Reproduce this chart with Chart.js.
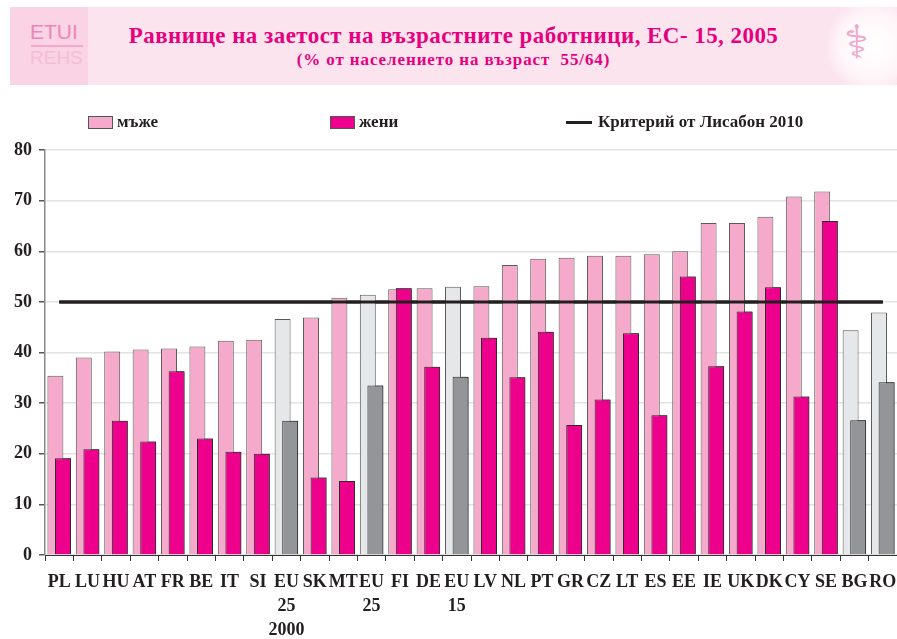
<!DOCTYPE html>
<html lang="bg">
<head>
    <meta charset="UTF-8">
    <title>Равнище на заетост на възрастните работници</title>
    <script src="https://cdn.jsdelivr.net/npm/chart.js"></script>
    <style>
        body { margin: 0; background: #fff; }
        #wrap { position: relative; width: 897px; height: 639px; overflow: hidden; }
        #chart { position: absolute; left: 0; top: 0; }
        .band { position: absolute; left: 10px; top: 7px; width: 887px; height: 78px; background: #fce4ee; }
        .logo-left { position: absolute; left: 10px; top: 7px; width: 78px; height: 78px; background: #fad3e4;
            font-family: 'Liberation Sans', sans-serif; }
        .logo-left .a { position: absolute; left: 20px; top: 13px; font-size: 21px; color: #ec86ba; }
        .logo-left .r { position: absolute; left: 21px; top: 38px; width: 52px; height: 2px; background: #f3a9cc; }
        .logo-left .b { position: absolute; left: 20px; top: 40px; font-size: 19px; color: #f5bdd7; }
        .logo-right { position: absolute; left: 828px; top: 7px; width: 69px; height: 78px;
            background: radial-gradient(circle at 65% 50%, #ffffff 0%, #fff6fa 55%, #fce4ee 80%); }
        .logo-right span { position: absolute; font-family: 'DejaVu Sans', sans-serif; color: #f0a6cb; }
        .title { position: absolute; left: 10px; width: 887px; text-align: center; font-family: 'Liberation Serif', serif;
            font-weight: bold; color: #e6007e; white-space: pre; }
        .t1 { top: 23px; font-size: 23px; letter-spacing: 0.45px; }
        .t2 { top: 50px; font-size: 17px; letter-spacing: 0.9px; }
        .legend { position: absolute; top: 112px; font-family: 'Liberation Serif', serif; font-weight: bold;
            font-size: 17px; color: #231f20; }
        .sw { position: absolute; top: 4px; width: 23px; height: 11px; border: 1px solid #555; }
        .ln { position: absolute; top: 9px; width: 26px; height: 3px; background: #231f20; }
    </style>
</head>
<body>
<div id="wrap">
    <canvas id="chart" width="897" height="639"></canvas>

    <div class="band"></div>
    <div class="logo-left"><span class="a">ETUI</span><span class="r"></span><span class="b">REHS</span></div>
    <div class="logo-right"><span style="left:16px;top:8px;font-size:46px;">⚕</span></div>
    <div class="title t1">Равнище на заетост на възрастните работници, ЕС- 15, 2005</div>
    <div class="title t2">(% от населението на възраст  55/64)</div>

    <div class="legend" style="left:88px;"><span class="sw" style="left:0;background:#f5aacb;"></span><span style="margin-left:29px;">мъже</span></div>
    <div class="legend" style="left:330px;"><span class="sw" style="left:0;background:#ec008c;"></span><span style="margin-left:29px;">жени</span></div>
    <div class="legend" style="left:566px;"><span class="ln" style="left:0;"></span><span style="margin-left:32px;">Критерий от Лисабон 2010</span></div>
</div>

<script>
    // Категории (държави и агрегати)
    const countries = ['PL', 'LU', 'HU', 'AT', 'FR', 'BE', 'IT', 'SI', ['EU', '25', '2000'], 'SK', 'MT', ['EU', '25'],
        'FI', 'DE', ['EU', '15'], 'LV', 'NL', 'PT', 'GR', 'CZ', 'LT', 'ES', 'EE', 'IE', 'UK', 'DK', 'CY', 'SE', 'BG', 'RO'];

    // Заетост, % от населението 55-64
    const men = [35.4, 39.0, 40.2, 40.6, 40.8, 41.2, 42.3, 42.5, 46.6, 46.9, 50.8, 51.4,
        52.5, 52.7, 53.0, 53.1, 57.3, 58.5, 58.7, 59.1, 59.1, 59.4, 60.0, 65.6, 65.6, 66.8, 70.8, 71.8, 44.4, 47.9];
    const women = [19.1, 20.9, 26.5, 22.4, 36.3, 23.0, 20.4, 20.0, 26.5, 15.3, 14.6, 33.5,
        52.7, 37.2, 35.2, 42.9, 35.1, 44.1, 25.7, 30.7, 43.8, 27.6, 55.0, 37.3, 48.1, 52.9, 31.3, 66.0, 26.6, 34.1];
    const lisbon = [50, 50, 50, 50, 50, 50, 50, 50, 50, 50, 50, 50, 50, 50, 50,
        50, 50, 50, 50, 50, 50, 50, 50, 50, 50, 50, 50, 50, 50, 50];

    // Агрегатите (EU, BG, RO) са в сиво
    const greyCats = ['EU 25 2000', 'EU 25', 'EU 15', 'BG', 'RO'];
    const isGrey = c => greyCats.includes([].concat(c).join(' '));
    const menColors = countries.map(c => isGrey(c) ? '#e6e7e8' : '#f5aacb');
    const womenColors = countries.map(c => isGrey(c) ? '#939598' : '#ec008c');

    const serif = 'Liberation Serif';

    // жените се припокриват върху мъжете, линията е най-отгоре
    const womenOnTop = {
        id: 'womenOnTop',
        afterDatasetsDraw(chart) {
            [1, 2].forEach(i => chart.getDatasetMeta(i).controller.draw());
        }
    };

    new Chart(document.getElementById('chart'), {
        type: 'bar',
        data: {
            labels: countries,
            datasets: [
                { label: 'мъже', data: men, backgroundColor: menColors, borderColor: '#5a5a5a', borderWidth: 1 },
                { label: 'жени', data: women, backgroundColor: womenColors, borderColor: '#2b2b2b', borderWidth: 1 },
                { type: 'line', label: 'Критерий от Лисабон 2010', data: lisbon,
                  borderColor: '#231f20', borderWidth: 3, pointRadius: 0, fill: false }
            ]
        },
        options: {
            responsive: false,
            animation: false,
            devicePixelRatio: 1,
            datasets: { bar: { categoryPercentage: 0.535, barPercentage: 2.1 } },
            layout: { padding: { top: 150, left: 0, right: 0, bottom: 0 } },
            plugins: { legend: { display: false }, tooltip: { enabled: false } },
            scales: {
                x: {
                    offset: true,
                    grid: { offset: true, drawOnChartArea: false, drawTicks: true, tickLength: 6, color: '#333' },
                    border: { color: '#333', width: 1 },
                    ticks: { autoSkip: false, maxRotation: 0, minRotation: 0, padding: 9, color: '#231f20',
                        font: { family: serif, size: 18, weight: 'bold', lineHeight: 1.33 } },
                    afterFit: s => { s.height = 84; s.paddingLeft = 0; s.paddingRight = 0; }
                },
                y: {
                    min: 0,
                    max: 80,
                    ticks: { stepSize: 10, padding: 7, color: '#231f20',
                        font: { family: serif, size: 18, weight: 'bold' } },
                    grid: { color: '#e3e3e3', lineWidth: 1.5, tickLength: 6, tickColor: '#555' },
                    border: { color: '#888', width: 1.5 },
                    afterFit: s => { s.width = 45; }
                }
            }
        },
        plugins: [womenOnTop]
    });
</script>
</body>
</html>
